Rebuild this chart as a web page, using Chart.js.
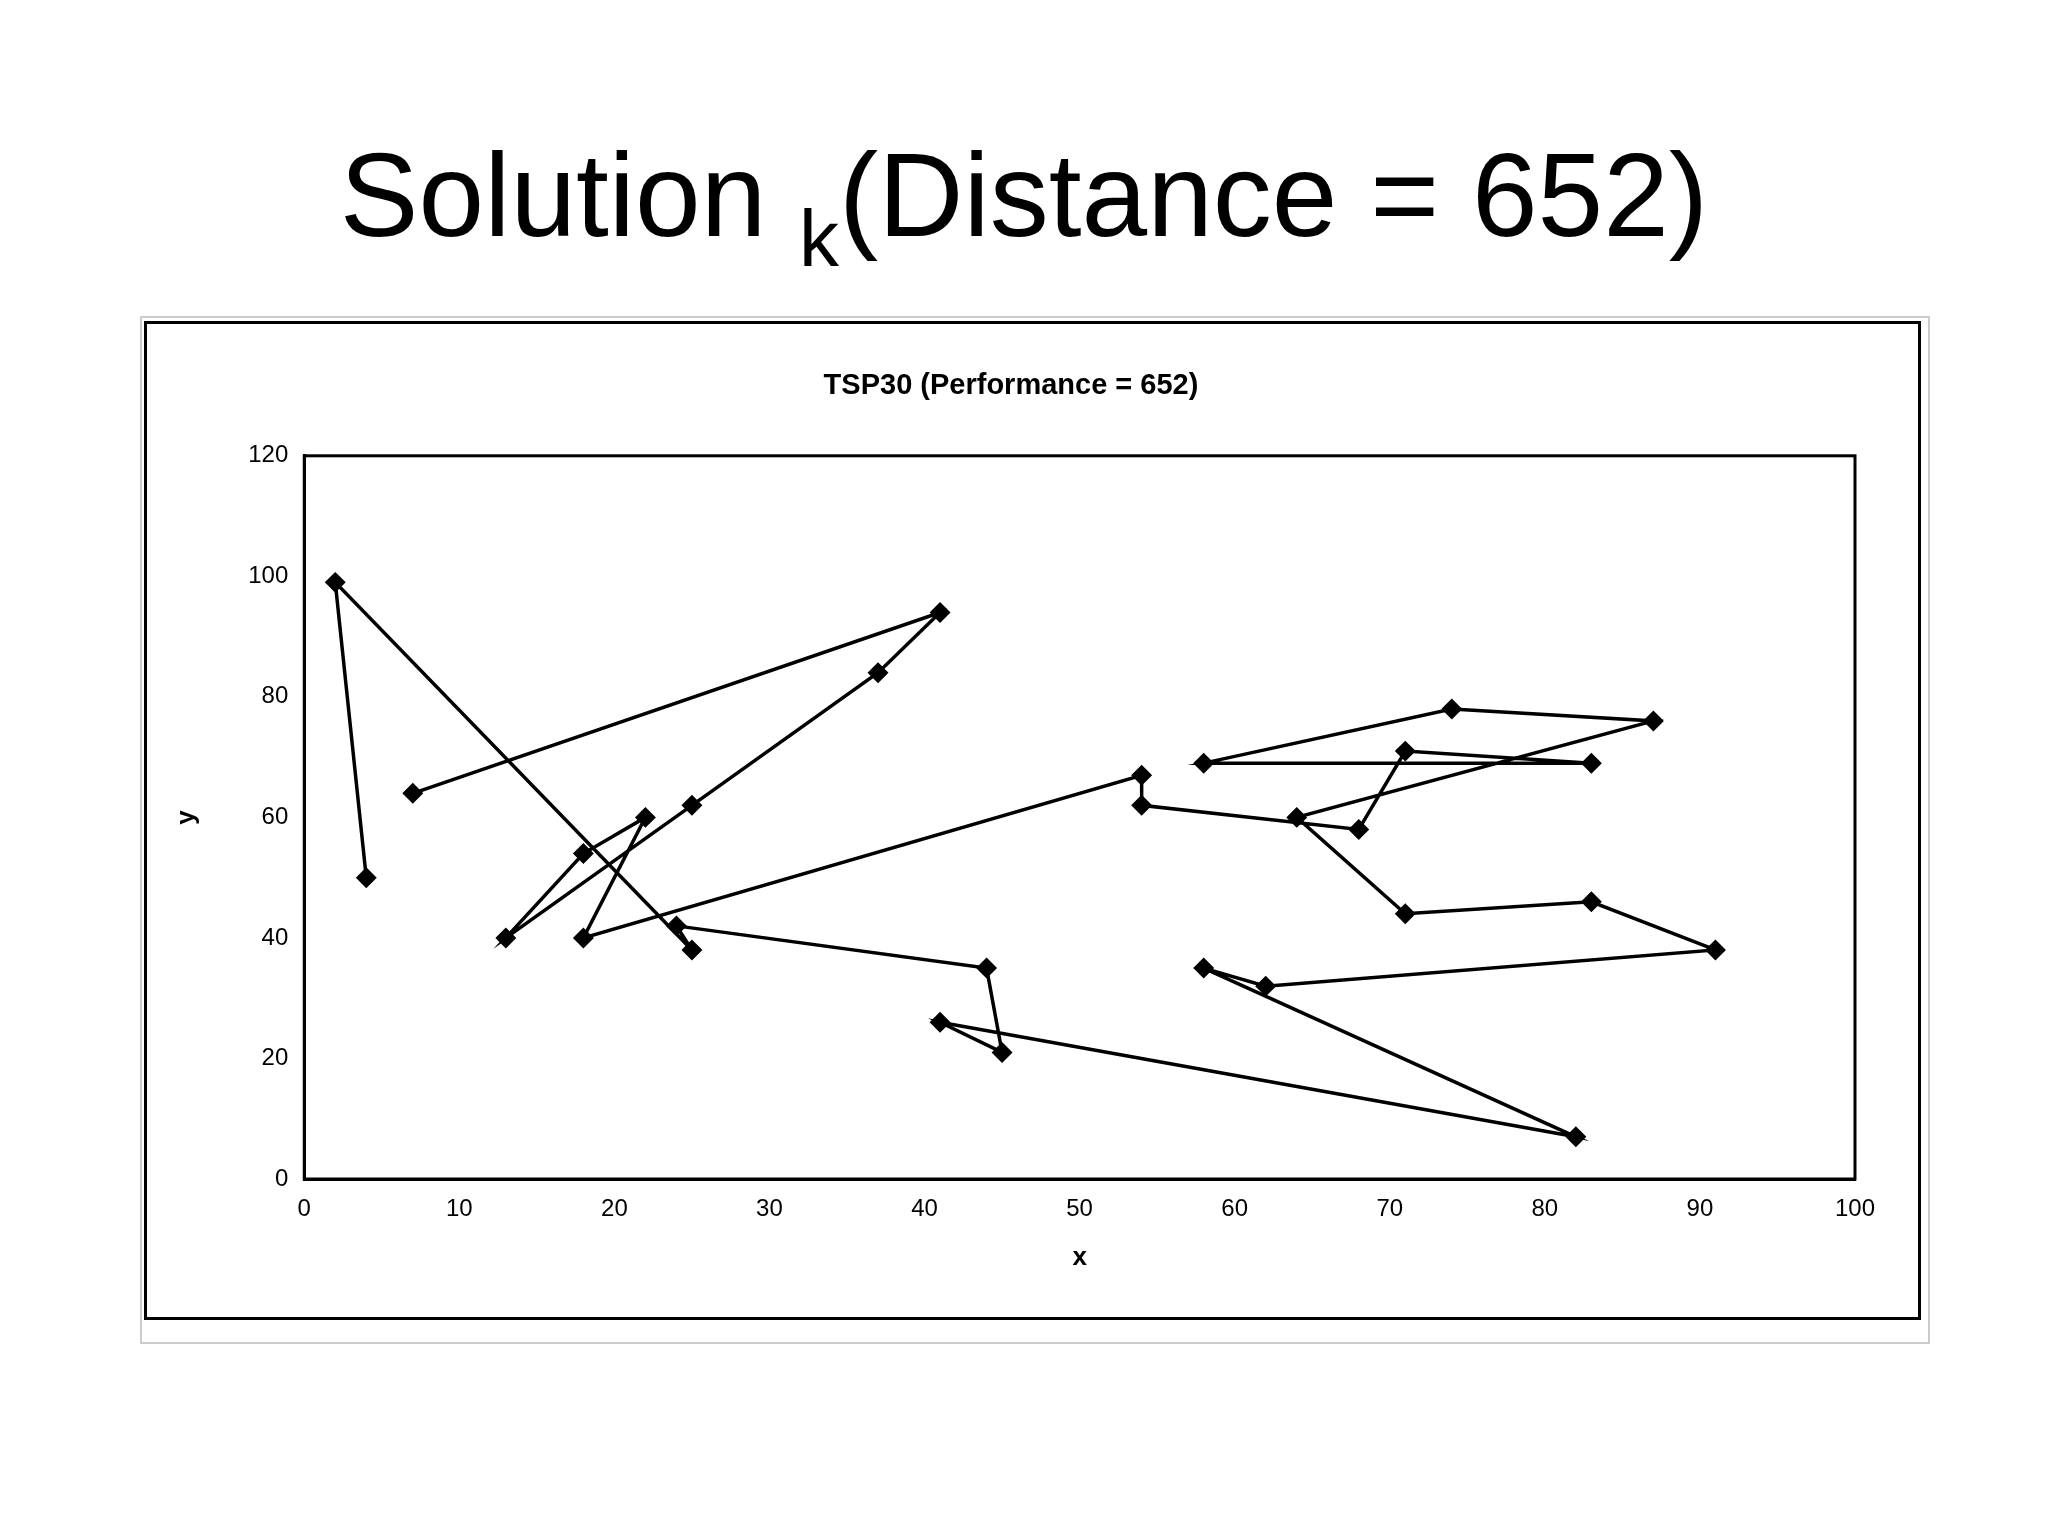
<!DOCTYPE html>
<html><head><meta charset="utf-8">
<script src="https://cdn.jsdelivr.net/npm/chart.js@4"></script>
<style>
body{margin:0;width:2048px;height:1536px;background:#fff;font-family:"Liberation Sans",Arial,sans-serif;position:relative;overflow:hidden}
#title{position:absolute;left:0;width:2048px;top:136px;text-align:center;font-size:118px;color:#000;line-height:1}
#title sub{font-size:80px;vertical-align:-30px}
#frame{position:absolute;left:140px;top:316px;width:1786px;height:1024px;border:2px solid #ccc}
#box{position:absolute;left:144px;top:321px;width:1777px;height:999px;border:3px solid #000;box-sizing:border-box}
canvas{display:block}
</style></head><body>
<div id="title">Solution <sub>k</sub>(Distance = 652)</div>
<div id="frame"></div>
<div id="box"><canvas id="c" width="1771" height="993"></canvas></div>
<script>
const tourX=[7,41,37,25,13,18,22,18,54,54,68,71,83,58,74,87,64,71,83,91,62,58,82,41,45,44,24,25,2,4];
const tourY=[64,94,84,62,40,54,60,40,67,62,58,71,69,69,78,76,60,44,46,38,32,35,7,26,21,35,42,38,99,50];
const xTicks=[0,10,20,30,40,50,60,70,80,90,100];
const yTicks=[0,20,40,60,80,100,120];
const pts=tourX.map((x,i)=>({x:x,y:tourY[i]}));
const frameBox={id:'fb',afterDraw(ch){const a=ch.chartArea,c=ch.ctx;c.save();c.strokeStyle='#000';c.lineWidth=3;c.strokeRect(a.left,a.top,a.right-a.left,a.bottom-a.top);c.restore();}};
new Chart(document.getElementById('c'),{
 type:'scatter',
 data:{datasets:[{data:pts,showLine:true,borderColor:'#000',borderWidth:3.5,pointStyle:'rectRot',pointRadius:8,pointBackgroundColor:'#000',pointBorderColor:'#000'}]},
 options:{responsive:false,animation:false,devicePixelRatio:1,
  layout:{padding:{left:20,right:63,top:0,bottom:40}},
  plugins:{legend:{display:false},tooltip:{enabled:false},
   title:{display:true,text:'TSP30 (Performance = 652)',color:'#000',font:{size:29,weight:'bold',family:'Liberation Sans'},padding:{top:45,bottom:52}}},
  scales:{
   x:{type:'linear',min:0,max:100,afterBuildTicks:s=>{s.ticks=xTicks.map(v=>({value:v}))},
      grid:{display:false,drawTicks:true,tickLength:10,tickColor:'#000'},border:{color:'#000',width:3},
      ticks:{color:'#000',font:{size:24,family:'Liberation Sans'},padding:6,maxRotation:0},
      title:{display:true,text:'x',color:'#000',font:{size:26,weight:'bold',family:'Liberation Sans'},padding:{top:12}}},
   y:{type:'linear',min:0,max:120,afterBuildTicks:s=>{s.ticks=yTicks.map(v=>({value:v}))},
      grid:{display:false,drawTicks:true,tickLength:10,tickColor:'#000'},border:{color:'#000',width:3},
      ticks:{color:'#000',font:{size:24,family:'Liberation Sans'},padding:6},
      title:{display:true,text:'y',color:'#000',font:{size:26,weight:'bold',family:'Liberation Sans'},padding:{bottom:40}}}
  }},
 plugins:[frameBox]
});
</script>
</body></html>
